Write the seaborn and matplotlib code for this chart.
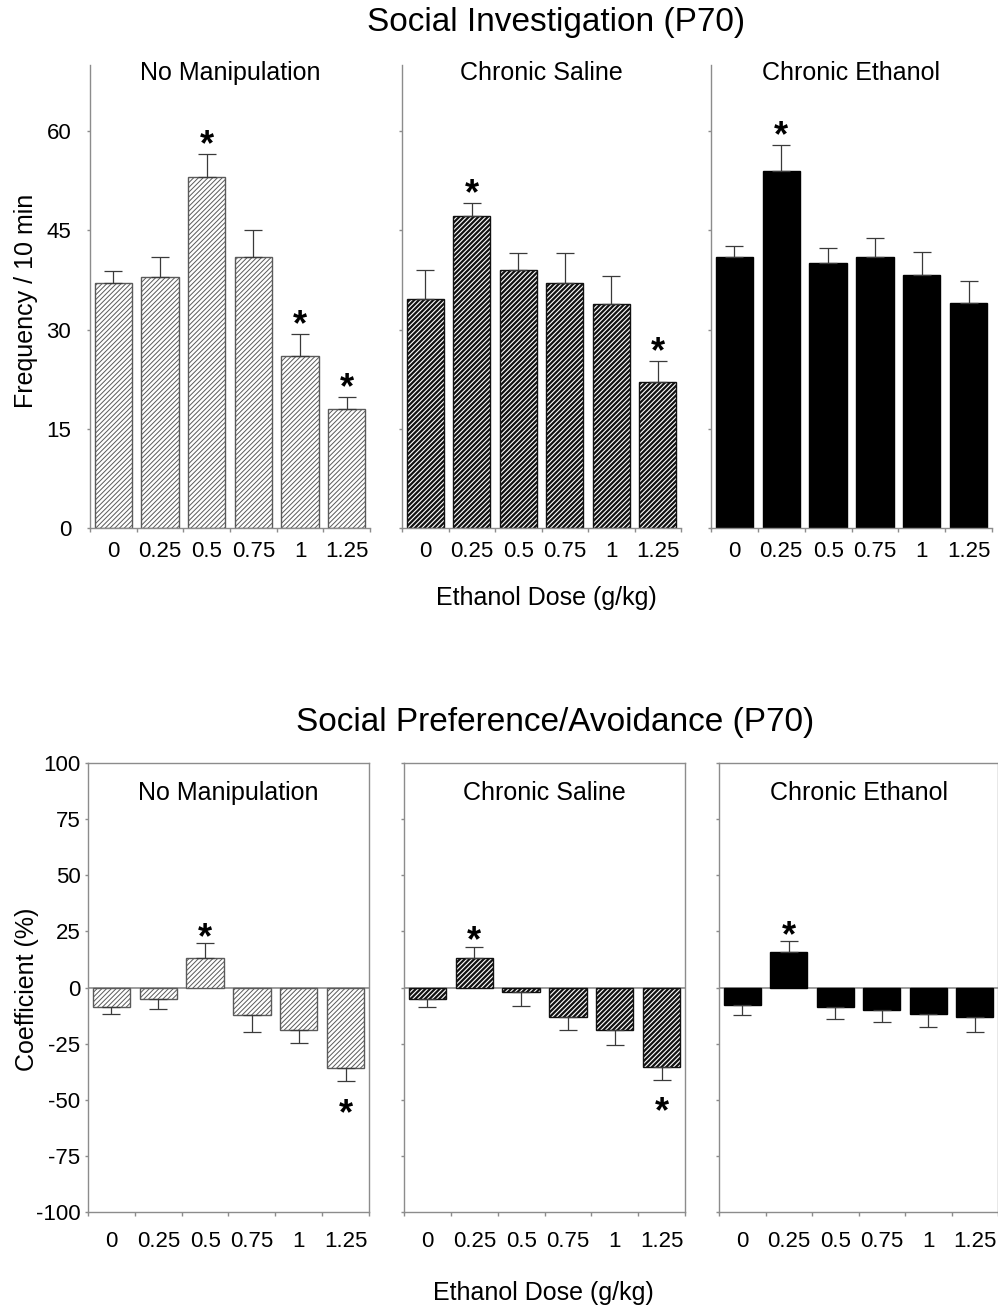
import numpy as np
import pandas as pd
import matplotlib
matplotlib.use("Agg")
import matplotlib.pyplot as plt
import seaborn as sns

# ethanol doses (g/kg) and groups
doses = ["0", "0.25", "0.5", "0.75", "1", "1.25"]
groups = ["No Manipulation", "Chronic Saline", "Chronic Ethanol"]

# Social investigation, frequency / 10 min (mean, sem)
si_nomanip = [37.0, 38.0, 53.0, 40.9, 26.0, 18.0]
si_nomanip_sem = [1.9, 2.9, 3.5, 4.2, 3.4, 1.8]
si_saline = [34.6, 47.1, 39.0, 37.0, 33.9, 22.0]
si_saline_sem = [4.4, 2.1, 2.6, 4.6, 4.2, 3.3]
si_ethanol = [41.0, 54.0, 40.1, 41.0, 38.3, 34.0]
si_ethanol_sem = [1.6, 3.9, 2.2, 2.9, 3.5, 3.4]
si_sig = [[2, 4, 5], [1, 5], [1]]

# Social preference / avoidance coefficient (%)
sp_nomanip = [-8.8, -5.1, 13.1, -12.4, -19.1, -36.0]
sp_nomanip_sem = [2.8, 4.5, 6.5, 7.2, 5.7, 5.6]
sp_saline = [-5.1, 13.1, -1.9, -13.3, -19.0, -35.4]
sp_saline_sem = [3.7, 5.1, 6.3, 5.7, 6.4, 5.6]
sp_ethanol = [-7.8, 15.7, -8.5, -10.1, -11.9, -13.3]
sp_ethanol_sem = [4.3, 4.9, 5.4, 5.1, 5.7, 6.4]
sp_sig = [[2, 5], [1, 5], [1]]

sns.set_style("white")
plt.rcParams['font.family'] = ['Liberation Sans', 'DejaVu Sans']
plt.rcParams['text.color'] = 'black'
plt.rcParams['axes.labelcolor'] = 'black'
plt.rcParams['xtick.color'] = 'black'
plt.rcParams['ytick.color'] = 'black'
plt.rcParams['axes.unicode_minus'] = False

styles = [
    dict(color="white", edgecolor="#5a5a5a", hatch="///////", hlw=0.7),
    dict(color="white", edgecolor="#111111", hatch="///////", hlw=1.6),
    dict(color="black", edgecolor="black", hatch=None, hlw=1.0),
]
spine_col = "#8c8c8c"


def panel(ax, vals, sems, sig, st, boxed):
    df = pd.DataFrame({"dose": doses, "val": vals, "err": sems})
    sns.barplot(data=df, x="dose", y="val", order=doses, ax=ax, width=0.8,
                color=st["color"], edgecolor=st["edgecolor"], linewidth=1.0,
                hatch=st["hatch"], saturation=1, errorbar=None)
    for p in ax.patches:
        if hasattr(p, "set_hatch_linewidth"):
            p.set_hatch_linewidth(st["hlw"])
    xs = np.array([p.get_x() + p.get_width() / 2 for p in ax.patches])
    v = df["val"].values
    s = df["err"].values
    up = np.where(v >= 0, s, 0)
    dn = np.where(v < 0, s, 0)
    ax.errorbar(xs, v, yerr=[dn, up], fmt="none", ecolor="#3a3a3a",
                elinewidth=0.9, capsize=6.5, capthick=0.9, zorder=1)
    for i in sig:
        if v[i] >= 0:
            off = 6 if not boxed else 3.5
            tip = v[i] + s[i]
        else:
            off = -24
            tip = v[i] - s[i]
        ax.annotate("*", (xs[i], tip), xytext=(0, off), textcoords="offset points",
                    ha="center", va="center", fontsize=26, fontweight="bold")
    ax.set_xlim(-0.5, 5.5)
    ax.set_xlabel("")
    ax.set_ylabel("")
    ax.set_xticks(range(len(doses)), doses)
    ax.set_xticks(np.arange(-0.5, 6, 1), minor=True)
    for sp in ax.spines.values():
        sp.set_color(spine_col)
        sp.set_linewidth(1.0)
    if boxed:
        ax.axhline(0, color="#8c8c8c", lw=1.2, zorder=0.5)
        ax.tick_params(axis="x", which="major", length=0, pad=14, labelsize=16)
    else:
        ax.spines["top"].set_visible(False)
        ax.spines["right"].set_visible(False)
        ax.tick_params(axis="x", which="major", length=0, pad=9, labelsize=16)
    ax.tick_params(axis="x", which="minor", bottom=True, length=3, width=1, color=spine_col)
    ax.tick_params(axis="y", left=True, length=2.5, width=1, color=spine_col, labelsize=16,
                   labelcolor="black", pad=3 if boxed else 11)


fig = plt.figure(figsize=(9.98, 13.10), dpi=100)

top_lefts = [(90, 280), (402, 279), (711, 281)]
bot_lefts = [(88, 281), (404, 281), (719, 279)]

si_vals = [si_nomanip, si_saline, si_ethanol]
si_sems = [si_nomanip_sem, si_saline_sem, si_ethanol_sem]
sp_vals = [sp_nomanip, sp_saline, sp_ethanol]
sp_sems = [sp_nomanip_sem, sp_saline_sem, sp_ethanol_sem]

for k in range(3):
    l, w = top_lefts[k]
    ax = fig.add_axes([l / 998, 1 - 528 / 1310, w / 998, 463 / 1310])
    panel(ax, si_vals[k], si_sems[k], si_sig[k], styles[k], boxed=False)
    ax.set_ylim(0, 70)
    ax.set_yticks([0, 15, 30, 45, 60])
    if k > 0:
        ax.set_yticklabels([])
    ax.text(0.5, 0.983, groups[k], transform=ax.transAxes, ha="center", va="center",
            fontsize=18)

    l, w = bot_lefts[k]
    ax = fig.add_axes([l / 998, 1 - 1212 / 1310, w / 998, 449 / 1310])
    panel(ax, sp_vals[k], sp_sems[k], sp_sig[k], styles[k], boxed=True)
    ax.set_ylim(-100, 100)
    ax.set_yticks(np.arange(-100, 101, 25))
    if k > 0:
        ax.set_yticklabels([])
    ax.text(0.5, 0.933, groups[k], transform=ax.transAxes, ha="center", va="center",
            fontsize=18)

fig.text(556 / 998, 1 - 22 / 1310, "Social Investigation (P70)", ha="center", va="center",
         fontsize=24)
fig.text(555 / 998, 1 - 722 / 1310, "Social Preference/Avoidance (P70)", ha="center",
         va="center", fontsize=24)
fig.text(546 / 998, 1 - 598 / 1310, "Ethanol Dose (g/kg)", ha="center", va="center",
         fontsize=18)
fig.text(543 / 998, 1 - 1293 / 1310, "Ethanol Dose (g/kg)", ha="center", va="center",
         fontsize=18)
fig.text(26 / 998, 1 - 301 / 1310, "Frequency / 10 min", ha="center", va="center",
         rotation=90, fontsize=18)
fig.text(27 / 998, 1 - 989 / 1310, "Coefficient (%)", ha="center", va="center",
         rotation=90, fontsize=18)

fig.savefig("out.png", dpi=100)
